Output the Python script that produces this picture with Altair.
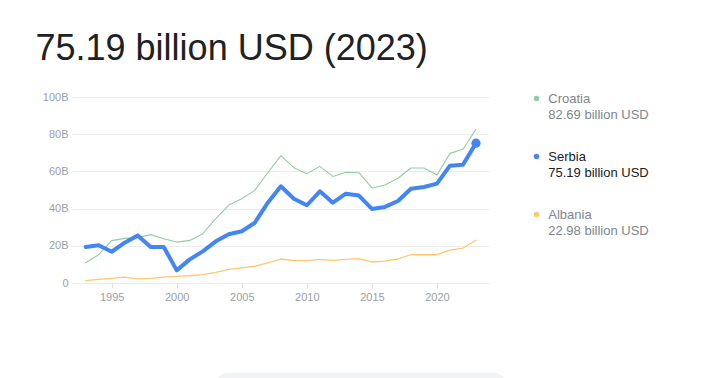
import altair as alt
import pandas as pd

years = list(range(1993, 2024))
serbia = [19.4, 20.3, 16.8, 21.7, 25.6, 19.4, 19.4, 6.8, 12.7, 17.0, 22.4, 26.2, 27.8, 32.4,
          43.2, 52.0, 45.3, 41.8, 49.3, 43.2, 48.0, 47.0, 39.8, 40.9, 44.1, 50.7, 51.6, 53.4,
          63.1, 63.6, 75.19]
croatia = [10.9, 15.2, 22.8, 24.0, 24.4, 26.0, 23.8, 22.0, 22.9, 26.5, 34.6, 41.9, 45.3, 49.8,
           59.3, 68.5, 62.0, 58.8, 62.7, 57.3, 59.5, 59.3, 51.1, 52.7, 56.3, 61.8, 61.8, 58.1,
           69.7, 71.9, 82.69]
albania = [1.3, 2.0, 2.5, 3.2, 2.2, 2.5, 3.2, 3.6, 3.9, 4.5, 5.7, 7.3, 8.1, 9.0,
           10.8, 12.9, 12.0, 12.0, 12.7, 12.2, 12.7, 13.1, 11.3, 11.8, 12.9, 15.2, 15.2, 15.2,
           17.7, 18.8, 22.98]

names = ["Croatia", "Serbia", "Albania"]
latest = ["82.69 billion USD", "75.19 billion USD", "22.98 billion USD"]
colors = ["#8fcf9f", "#4285f4", "#fcc96e"]
text_colors = ["#80868b", "#202124", "#80868b"]
title_text = "75.19 billion USD (2023)"
x_ticks = [1995, 2000, 2005, 2010, 2015, 2020]
y_ticks = [0, 20, 40, 60, 80, 100]

FONT = "Arial, Liberation Sans, sans-serif"

rows = []
for name, vals in zip(names, [croatia, serbia, albania]):
    for y, v in zip(years, vals):
        rows.append({"country": name, "year": y, "value": v})
df = pd.DataFrame(rows)

xscale = alt.Scale(domain=[1991.95, 2024], nice=False, zero=False)
yscale = alt.Scale(domain=[0, 100], nice=False)

xaxis = alt.Axis(values=x_ticks, format="d", grid=False, domain=False, ticks=True,
                 tickSize=5, tickColor="#e0e0e0", labelColor="#9aa0a6", labelFontSize=11,
                 labelFont=FONT, labelPadding=3, title=None)
yaxis = alt.Axis(values=y_ticks, labelExpr="datum.value == 0 ? '0' : datum.value + 'B'",
                 grid=True, gridColor="#ededed", domain=False, ticks=False,
                 labelColor="#9aa0a6", labelFontSize=11, labelFont=FONT, labelPadding=4,
                 title=None)

def line_layer(name, color, width, axes=False):
    return alt.Chart(df[df.country == name]).mark_line(
        strokeWidth=width, color=color, strokeJoin="round", strokeCap="round"
    ).encode(
        x=alt.X("year:Q", scale=xscale, axis=xaxis),
        y=alt.Y("value:Q", scale=yscale, axis=yaxis if axes else None),
    )

albania_l = line_layer("Albania", colors[2], 1.3, axes=True)
croatia_l = line_layer("Croatia", colors[0], 1.1)
serbia_l = line_layer("Serbia", colors[1], 4)

end_df = df[(df.country == "Serbia") & (df.year == years[-1])]
end_dot = alt.Chart(end_df).mark_circle(size=85, color=colors[1], opacity=1).encode(
    x=alt.X("year:Q", scale=xscale, axis=xaxis),
    y=alt.Y("value:Q", scale=yscale, axis=None),
)

leg = pd.DataFrame({"row": list(range(len(names))), "name": names, "latest": latest,
                    "color": colors, "tcolor": text_colors})
leg_y = alt.Y("row:Q", scale=alt.Scale(domain=[0, 2], range=[6.3, 122.3]), axis=None)
leg_y_dot = alt.Y("row:Q", scale=alt.Scale(domain=[0, 2], range=[1.6, 117.6]), axis=None)

leg_dots = alt.Chart(leg).mark_circle(size=30, opacity=1).encode(
    x=alt.value(464.5), y=leg_y_dot,
    color=alt.Color("color:N", scale=None, legend=None),
)
leg_names = alt.Chart(leg).mark_text(align="left", baseline="alphabetic", fontSize=13,
                                     font=FONT).encode(
    x=alt.value(476.3), y=leg_y, text="name:N",
    color=alt.Color("tcolor:N", scale=None, legend=None),
)
leg_vals = alt.Chart(leg).mark_text(align="left", baseline="alphabetic", fontSize=13,
                                    font=FONT, dy=16).encode(
    x=alt.value(476.3), y=leg_y, text="latest:N",
    color=alt.Color("tcolor:N", scale=None, legend=None),
)

title_df = pd.DataFrame({"t": [title_text]})
title = alt.Chart(title_df).mark_text(align="left", baseline="alphabetic", fontSize=36,
                                      font=FONT, color="#202124").encode(
    x=alt.value(-36.5), y=alt.value(-37), text="t:N"
)

bottom_bar = alt.Chart(title_df).mark_rect(color="#f1f3f4", cornerRadius=12).encode(
    x=alt.value(144), x2=alt.value(434), y=alt.value(275.7), y2=alt.value(310)
)

chart = alt.layer(
    albania_l, croatia_l, serbia_l, end_dot, leg_dots, leg_names, leg_vals, title, bottom_bar
).resolve_scale(y="independent").properties(
    width=417, height=186,
    autosize=alt.AutoSizeParams(type="none"),
    padding={"left": 64, "top": 89, "right": 226, "bottom": 95},
).configure_view(stroke=None)

chart.save("out.html", embed_options={"renderer": "svg", "actions": False})
